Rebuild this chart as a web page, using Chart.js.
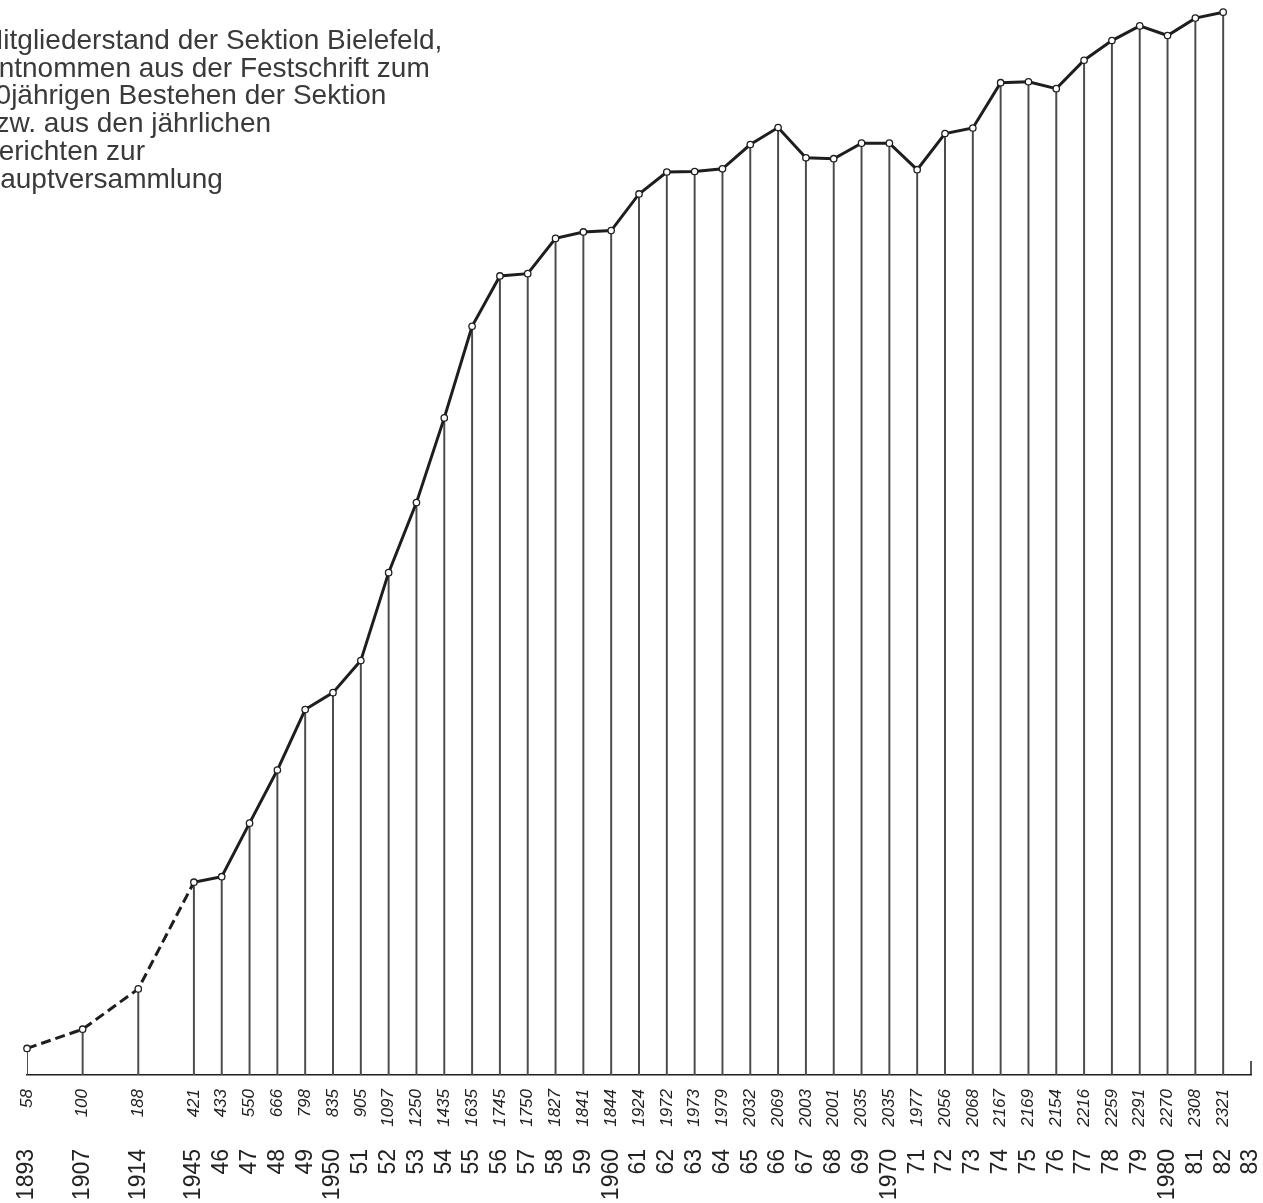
<!DOCTYPE html>
<html>
<head>
<meta charset="utf-8">
<script src="https://cdn.jsdelivr.net/npm/chart.js@4.4.1/dist/chart.umd.min.js"></script>
<style>
html,body{margin:0;padding:0;background:#fff;overflow:hidden}
#wrap{position:relative;width:1263px;height:1203px;background:#fff}
canvas{position:absolute;left:0;top:0}
#note{position:absolute;left:-20px;top:26px;font-family:"Liberation Sans",Arial,sans-serif;font-size:28px;line-height:27.7px;color:#3a3a3a;white-space:pre;z-index:2}
</style>
</head>
<body>
<div id="wrap">
<canvas id="c" width="1263" height="1203"></canvas>
<div id="note">Mitgliederstand der Sektion Bielefeld,
Entnommen aus der Festschrift zum
90jährigen Bestehen der Sektion
bzw. aus den jährlichen
Berichten zur
Hauptversammlung</div>
</div>
<script>
// Category slots (empty strings keep the wider gaps between the early years)
const yearLabels = ['1893','','1907','','1914','','1945','46','47','48','49','1950','51','52','53','54','55','56','57','58','59','1960','61','62','63','64','65','66','67','68','69','1970','71','72','73','74','75','76','77','78','79','1980','81','82','83'];
// Membership per slot (null = no figure)
const memberCounts = [58,null,100,null,188,null,421,433,550,666,798,835,905,1097,1250,1435,1635,1745,1750,1827,1841,1844,1924,1972,1973,1979,2032,2069,2003,2001,2035,2035,1977,2056,2068,2167,2169,2154,2216,2259,2291,2270,2308,2321,null];
const valueLabels = memberCounts.map(v => v == null ? '' : String(v));
const dashedUntil = 6; // index of 1945: estimated figures before it

const ink = '#1e1e1e';

const endTick = {
  id: 'endTick',
  afterDatasetsDraw(chart) {
    const c = chart.ctx;
    const xs = chart.scales.x;
    const x = xs.getPixelForValue(yearLabels.length - 1);
    const y = chart.chartArea.bottom;
    c.save();
    c.strokeStyle = ink;
    c.lineWidth = 1.5;
    c.beginPath();
    c.moveTo(x, y);
    c.lineTo(x, y - 14);
    c.stroke();
    c.restore();
  }
};

new Chart(document.getElementById('c'), {
  data: {
    labels: yearLabels,
    datasets: [
      {
        type: 'line',
        data: memberCounts,
        borderColor: ink,
        borderWidth: 3,
        spanGaps: true,
        tension: 0,
        pointRadius: 3.2,
        pointBackgroundColor: '#fff',
        pointBorderColor: ink,
        pointBorderWidth: 1.3,
        segment: {
          borderDash: c => (c.p1DataIndex <= dashedUntil ? [10, 5] : undefined)
        },
        order: 0
      },
      {
        type: 'bar',
        data: memberCounts,
        backgroundColor: '#4a4a4a',
        barThickness: 1.3,
        order: 1
      }
    ]
  },
  options: {
    responsive: false,
    animation: false,
    layout: { padding: { left: 27, right: 12, top: 0, bottom: 0 } },
    plugins: { legend: { display: false }, tooltip: { enabled: false } },
    scales: {
      x: {
        type: 'category',
        offset: false,
        weight: 1,
        grid: { display: false, drawTicks: false },
        border: { display: true, color: ink, width: 1.5 },
        ticks: {
          autoSkip: false, minRotation: 90, maxRotation: 90, padding: 14,
          color: '#222',
          font: { family: 'Liberation Sans', size: 17, style: 'italic' },
          callback: (v, i) => valueLabels[i]
        },
        afterFit: s => { s.height = 62; s.paddingLeft = 0; s.paddingRight = 0; }
      },
      x2: {
        type: 'category',
        labels: yearLabels,
        position: 'bottom',
        offset: false,
        weight: 2,
        grid: { display: false, drawTicks: false },
        border: { display: false },
        ticks: {
          autoSkip: false, minRotation: 90, maxRotation: 90, padding: 12,
          color: '#222',
          font: { family: 'Liberation Sans', size: 23 }
        },
        afterFit: s => { s.height = 66; s.paddingLeft = 0; s.paddingRight = 0; }
      },
      y: { display: false, min: 0, max: 2336 }
    }
  },
  plugins: [endTick]
});
</script>
</body>
</html>
